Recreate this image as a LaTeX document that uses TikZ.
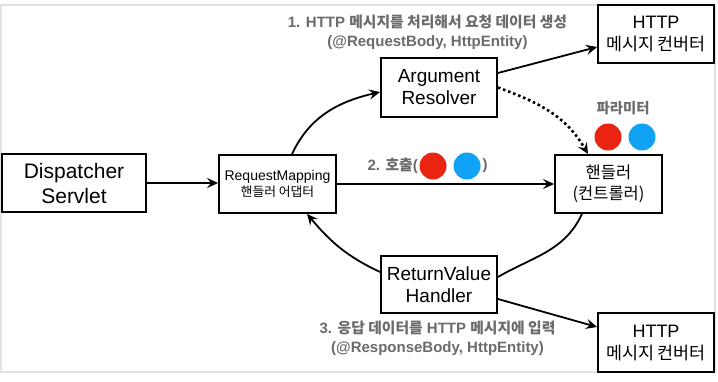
\documentclass[tikz,border=0pt]{standalone}
\usepackage{fontspec}
\setmainfont{Liberation Sans}
\newfontfamily\kr{Noto Sans CJK KR}
\usetikzlibrary{arrows.meta,calc}
\definecolor{lblgray}{HTML}{6B6B6B}
\definecolor{dotred}{HTML}{EA2410}
\definecolor{dotblue}{HTML}{10A2F5}
\definecolor{framegray}{HTML}{E2E2E2}
\begin{document}
\begin{tikzpicture}[x=1pt,y=1pt,
  box/.style={draw=black, line width=1.8pt, inner sep=0pt, align=center, fill=white},
  conn/.style={line width=1.8pt, -{Stealth[length=11pt,width=10pt,inset=4pt]}},
  plainconn/.style={line width=1.8pt},
  dotconn/.style={line width=2.6pt, dash pattern=on 2.6pt off 2.8pt, -{Stealth[length=11pt,width=10pt,inset=4pt]}},
  lbl/.style={text=lblgray, inner sep=0pt, font=\bfseries\fontsize{15}{17}\selectfont},
  pdot/.style={circle, inner sep=0pt, minimum size=27pt}]
\useasboundingbox (0,0) rectangle (718,381);
\fill[white] (0,0) rectangle (718,381);
\draw[framegray, line width=2pt] (1,9) rectangle (715,376);

\node[box, minimum width=144pt, minimum height=58pt, font=\fontsize{21}{25}\selectfont] (ds) at (74,198) {Dispatcher\\Servlet};
\node[box, minimum width=117pt, minimum height=58pt, font=\fontsize{14}{16}\selectfont] (rm) at (277.5,197) {RequestMapping\\{\kr\fontsize{12.8}{16}\selectfont 핸들러 어댑터}};
\node[box, minimum width=116pt, minimum height=59pt, font=\fontsize{19}{22}\selectfont] (ar) at (439,293.5) {Argument\\Resolver};
\node[box, minimum width=116pt, minimum height=58pt, font=\fontsize{18}{22}\selectfont] (h1) at (656,347) {HTTP\\{\kr\fontsize{17.4}{22}\selectfont 메시지 컨버터}};
\node[box, minimum width=107pt, minimum height=58pt, font=\kr\fontsize{16.5}{25}\selectfont] (hd) at (608.5,197) {\raisebox{-4pt}{핸들러}\\(컨트롤러)};
\node[box, minimum width=116pt, minimum height=57pt, font=\fontsize{19}{22}\selectfont] (rv) at (439,96.5) {ReturnValue\\Handler};
\node[box, minimum width=116pt, minimum height=59pt, font=\fontsize{18}{22}\selectfont] (h2) at (656,38.5) {HTTP\\{\kr\fontsize{17.4}{22}\selectfont 메시지 컨버터}};

\node[lbl] (l1a) at (427.5,359) {1. HTTP {\kr\fontsize{14.8}{17}\selectfont 메시지를 처리해서 요청 데이터 생성}};
\node[lbl] (l1b) at (427.5,338) {(@RequestBody, HttpEntity)};
\node[lbl] (l3a) at (437.5,53) {3. {\kr\fontsize{14.8}{17}\selectfont 응답 데이터를} HTTP {\kr\fontsize{14.8}{17}\selectfont 메시지에 입력}};
\node[lbl] (l3b) at (437.5,32) {(@ResponseBody, HttpEntity)};
\node[lbl, font=\kr\bfseries\fontsize{14.4}{16}\selectfont] (pl) at (623,273) {파라미터};
\node[lbl, anchor=east] (call) at (418,215) {2. {\kr\fontsize{14.8}{17}\selectfont 호출}(};
\node[lbl] (callend) at (485,215) {)};

\node[pdot, fill=dotred] (p1) at (608,244) {};
\node[pdot, fill=dotblue] (p2) at (642,244) {};
\node[pdot, fill=dotred] (c1) at (433,215) {};
\node[pdot, fill=dotblue] (c2) at (467,215) {};

\draw[conn] (ds.east) -- (ds.east -| rm.west);
\draw[conn] (rm.east) -- (rm.east -| hd.west);
\draw[conn] ($(rm.north)+(14.5,0)$) to[out=65,in=193] ($(ar.west)+(0,-4.5)$);
\draw[conn] ($(ar.east)+(0,14.5)$) -- ($(h1.west)+(0,-13)$);
\draw[dotconn] (ar.east) to[out=-20,in=120] ($(hd.north)+(-20.5,0)$);
\draw[plainconn] ($(hd.south)+(-26.5,0)$) to[out=245,in=30] ($(rv.east)+(0,7.5)$);
\draw[conn] ($(rv.west)+(0,12.5)$) to[out=155,in=-50] ($(rm.south)+(29.5,0)$);
\draw[conn] ($(rv.east)+(0,-14.5)$) -- ($(h2.west)+(0,15.5)$);
\end{tikzpicture}
\end{document}
